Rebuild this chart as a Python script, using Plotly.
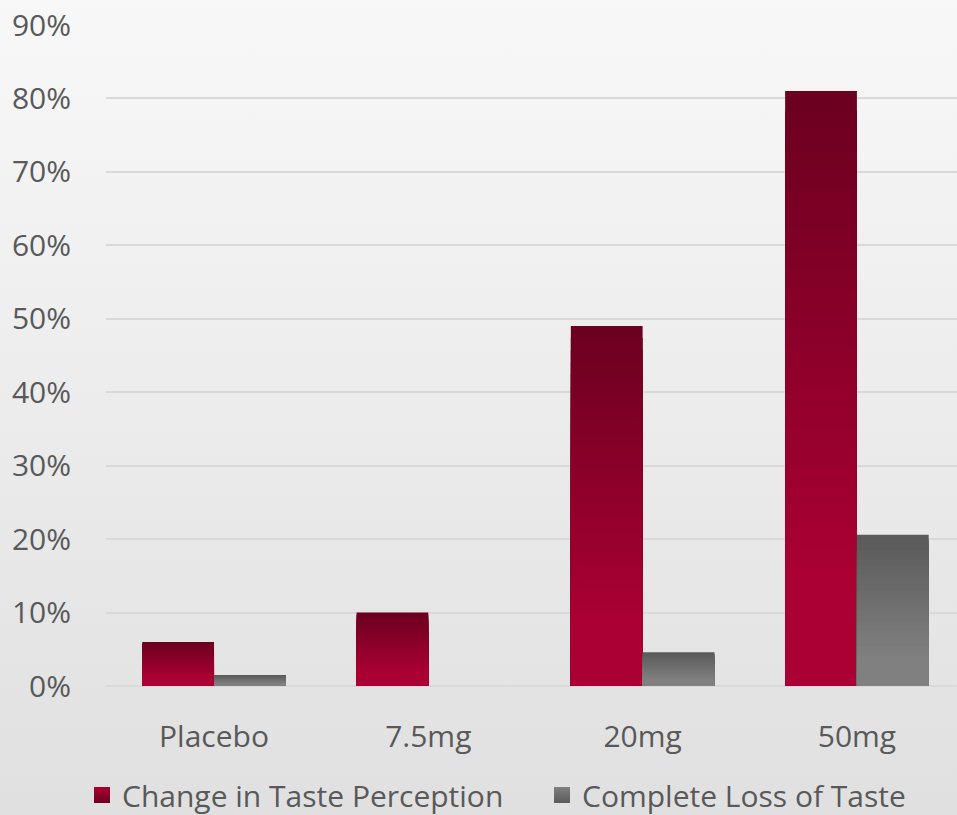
import base64
import plotly.graph_objects as go

categories = ["Placebo", "7.5mg", "20mg", "50mg"]
change_in_taste = [6.0, 10.0, 49.0, 81.0]
complete_loss = [1.5, 0.0, 4.6, 20.6]
y_ticks = [0, 10, 20, 30, 40, 50, 60, 70, 80, 90]
y_tick_labels = [f"{v}%" for v in y_ticks]

series = [
    ("Change in Taste Perception", change_in_taste, (0x6C, 0x00, 0x20), (0xAA, 0x00, 0x33), "a", "legend"),
    ("Complete Loss of Taste", complete_loss, (0x5A, 0x5A, 0x5A), (0x80, 0x80, 0x80), "b", "legend2"),
]

N = 30
fig = go.Figure()
for name, vals, dark, bright, grp, lg in series:
    for i in range(N):
        frac = 1 - i / N
        t = min(1.0, (i / N) / 0.8)
        c = tuple(round(d + (b - d) * t) for d, b in zip(dark, bright))
        color = "rgb(%d,%d,%d)" % c
        fig.add_trace(go.Bar(
            x=categories,
            y=[v * frac for v in vals],
            name=name,
            offsetgroup=grp,
            legendgroup=grp,
            showlegend=False,
            marker=dict(color=color, line=dict(width=0)),
            hoverinfo="skip" if i else "x+y",
        ))

# legend entries (square swatches with gradient)
for name, vals, dark, bright, grp, lg in series:
    fig.add_trace(go.Scatter(
        x=[None], y=[None], mode="markers", name=name, legendgroup=grp, legend=lg,
        marker=dict(symbol="square", size=20, color="rgb(%d,%d,%d)" % bright,
                    line=dict(width=0),
                    gradient=dict(type="vertical", color="rgb(%d,%d,%d)" % dark)),
    ))

svg = ('<svg xmlns="http://www.w3.org/2000/svg" width="10" height="100" preserveAspectRatio="none" '
       'viewBox="0 0 10 100"><defs><linearGradient id="g" x1="0" y1="0" x2="0" y2="1">'
       '<stop offset="0" stop-color="#f8f8f8"/><stop offset="1" stop-color="#e0e0e0"/>'
       '</linearGradient></defs><rect width="10" height="100" fill="url(#g)"/></svg>')
src = "data:image/svg+xml;base64," + base64.b64encode(svg.encode()).decode()

W, H = 957, 815
ml, mr, mt, mb = 106, 0, 25, 129
pw, ph = W - ml - mr, H - mt - mb

font_family = "Open Sans, Noto Sans, sans-serif"
tick_color = "#595959"
fs = 30

legend_common = dict(
    orientation="h", xref="container", xanchor="left",
    yref="container", y=(H - 795) / H, yanchor="middle",
    font=dict(size=fs, color=tick_color),
    bgcolor="rgba(0,0,0,0)", itemsizing="trace", itemwidth=30,
)

fig.update_layout(
    width=W, height=H,
    margin=dict(l=ml, r=mr, t=mt, b=mb, autoexpand=False),
    paper_bgcolor="#e4e4e4",
    plot_bgcolor="rgba(0,0,0,0)",
    barmode="group",
    bargap=0.33,
    bargroupgap=0,
    font=dict(family=font_family, size=fs, color=tick_color),
    images=[dict(
        source=src, xref="paper", yref="paper",
        x=-ml / pw, y=1 + mt / ph, sizex=W / pw, sizey=H / ph,
        sizing="stretch", xanchor="left", yanchor="top", layer="below",
    )],
    legend=dict(x=82 / W, **legend_common),
    legend2=dict(x=542 / W, **legend_common),
    xaxis=dict(
        range=[-0.504, 3.467],
        showgrid=False, showline=False, zeroline=False,
        ticks="outside", ticklen=24, tickcolor="rgba(0,0,0,0)",
        tickfont=dict(size=fs, color=tick_color),
    ),
    yaxis=dict(
        range=[0, 90], tickvals=y_ticks, ticktext=y_tick_labels,
        showgrid=True, gridcolor="#d9d9d9", gridwidth=2,
        zeroline=True, zerolinecolor="#d9d9d9", zerolinewidth=2,
        showline=False, ticks="outside", ticklen=28, tickcolor="rgba(0,0,0,0)",
        tickfont=dict(size=fs, color=tick_color),
    ),
)

fig.write_html("out.html")
